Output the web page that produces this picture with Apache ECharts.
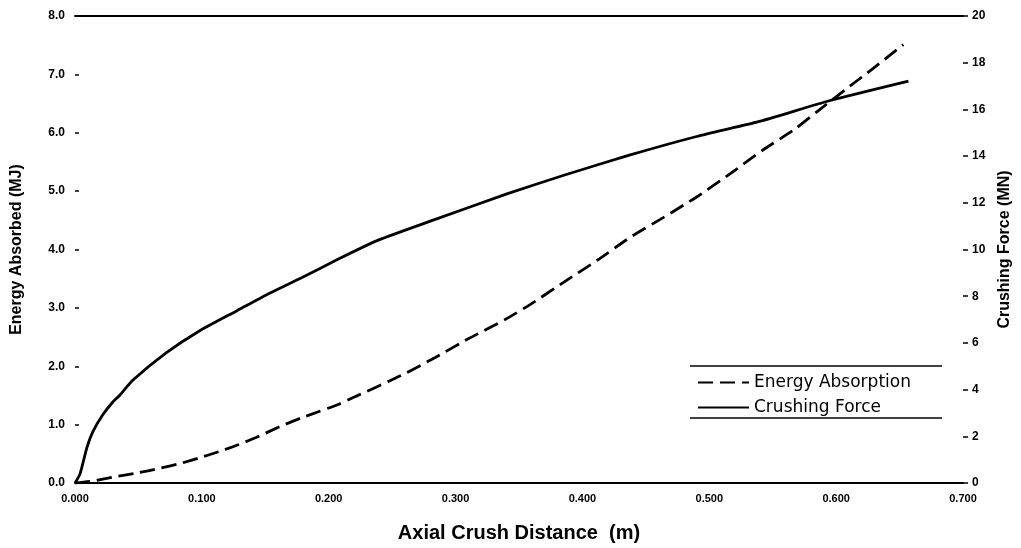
<!DOCTYPE html>
<html>
<head>
<meta charset="utf-8">
<script src="https://cdn.jsdelivr.net/npm/echarts@6/dist/echarts.min.js"></script>
<style>
html,body{margin:0;padding:0;background:#fff;}
#chart{width:1021px;height:548px;}
</style>
</head>
<body>
<div id="chart"></div>
<script>
// Axial crush distance (m) and crushing force (MN)
var forceX = [0, 0.0039, 0.0094, 0.0141, 0.0219, 0.0298, 0.0353, 0.0455, 0.0721, 0.098, 0.127, 0.153, 0.179, 0.208, 0.239, 0.284, 0.341, 0.386, 0.437, 0.490, 0.542, 0.594, 0.657];
var forceY = [0, 0.38, 1.52, 2.20, 2.92, 3.47, 3.76, 4.40, 5.58, 6.51, 7.36, 8.12, 8.80, 9.60, 10.40, 11.29, 12.39, 13.19, 14.04, 14.84, 15.52, 16.36, 17.21];
// Axial crush distance (m) and energy absorbed (MJ)
var energyX = [0, 0.0141, 0.0298, 0.0486, 0.0666, 0.0823, 0.098, 0.1137, 0.1293, 0.1427, 0.163, 0.179, 0.208, 0.221, 0.257, 0.284, 0.310, 0.339, 0.359, 0.386, 0.412, 0.437, 0.464, 0.490, 0.516, 0.542, 0.568, 0.586, 0.608, 0.629, 0.653];
var energyY = [0, 0.034, 0.10, 0.17, 0.25, 0.33, 0.43, 0.54, 0.66, 0.78, 0.98, 1.12, 1.35, 1.48, 1.84, 2.15, 2.47, 2.80, 3.06, 3.45, 3.82, 4.20, 4.55, 4.90, 5.29, 5.70, 6.07, 6.38, 6.75, 7.10, 7.51];
var seriesNames = ['Energy Absorption', 'Crushing Force'];
var xTitle = 'Axial Crush Distance  (m)';
var yLeftTitle = 'Energy Absorbed (MJ)';
var yRightTitle = 'Crushing Force (MN)';

function pairs(xs, ys){ return xs.map(function(x,i){ return [x, ys[i]]; }); }

var chart = echarts.init(document.getElementById('chart'), null, {renderer:'canvas'});
var tickFont = {fontFamily:'Liberation Sans, Arial, sans-serif', fontWeight:'bold', color:'#000'};
chart.setOption({
  animation:false,
  backgroundColor:'#fff',
  grid:{left:75, right:53, top:16, bottom:59, containLabel:false},
  legend:{
    data:seriesNames, orient:'vertical', left:697, top:374,
    itemWidth:51, itemHeight:14, itemGap:8, padding:0,
    itemStyle:{opacity:0},
    textStyle:{fontFamily:'DejaVu Sans, sans-serif', fontSize:17, color:'#000'}
  },
  xAxis:[{
    type:'value', min:0, max:0.7, interval:0.1, position:'bottom',
    name:xTitle, nameLocation:'middle', nameGap:40,
    nameTextStyle:{fontFamily:'Liberation Sans, Arial, sans-serif', fontWeight:'bold', fontSize:20, color:'#000'},
    axisLine:{show:true, onZero:false, lineStyle:{color:'#000', width:2}},
    axisTick:{show:false},
    splitLine:{show:false},
    axisLabel:Object.assign({fontSize:11, margin:10, formatter:function(v){return v.toFixed(3);}}, tickFont)
  },{
    type:'value', min:0, max:0.7, position:'top',
    axisLine:{show:true, onZero:false, lineStyle:{color:'#000', width:2}},
    axisTick:{show:false}, axisLabel:{show:false}, splitLine:{show:false}
  }],
  yAxis:[{
    type:'value', min:0, max:8, interval:1, position:'left',
    name:yLeftTitle, nameLocation:'middle', nameGap:50, nameRotate:90,
    nameTextStyle:{fontFamily:'Liberation Sans, Arial, sans-serif', fontWeight:'bold', fontSize:16, color:'#000'},
    axisLine:{show:false, onZero:false},
    axisTick:{show:true, inside:true, length:4, lineStyle:{color:'#000', width:1.5}},
    splitLine:{show:false},
    axisLabel:Object.assign({fontSize:12, margin:10, formatter:function(v){return v.toFixed(1);}}, tickFont)
  },{
    type:'value', min:0, max:20, interval:2, position:'right',
    name:yRightTitle, nameLocation:'middle', nameGap:34, nameRotate:90,
    nameTextStyle:{fontFamily:'Liberation Sans, Arial, sans-serif', fontWeight:'bold', fontSize:16, color:'#000'},
    axisLine:{show:false, onZero:false},
    axisTick:{show:true, inside:false, length:5, lineStyle:{color:'#000', width:1.5}},
    splitLine:{show:false},
    axisLabel:Object.assign({fontSize:12, margin:9}, tickFont)
  }],
  graphic:[
    {type:'line', shape:{x1:690, y1:366, x2:942, y2:366}, style:{stroke:'#000', lineWidth:1.5}},
    {type:'line', shape:{x1:690, y1:418, x2:942, y2:418}, style:{stroke:'#000', lineWidth:1.5}}
  ],
  series:[{
    name:seriesNames[0], type:'line', yAxisIndex:0, xAxisIndex:0,
    data:pairs(energyX, energyY), showSymbol:false, symbol:'none', smooth:0.2,
    lineStyle:{color:'#000', width:2.8, type:[15,7]}, itemStyle:{color:'#000'}
  },{
    name:seriesNames[1], type:'line', yAxisIndex:1, xAxisIndex:0,
    data:pairs(forceX, forceY), showSymbol:false, symbol:'none', smooth:0.2,
    lineStyle:{color:'#000', width:2.8}, itemStyle:{color:'#000'}
  }]
});
</script>
</body>
</html>
